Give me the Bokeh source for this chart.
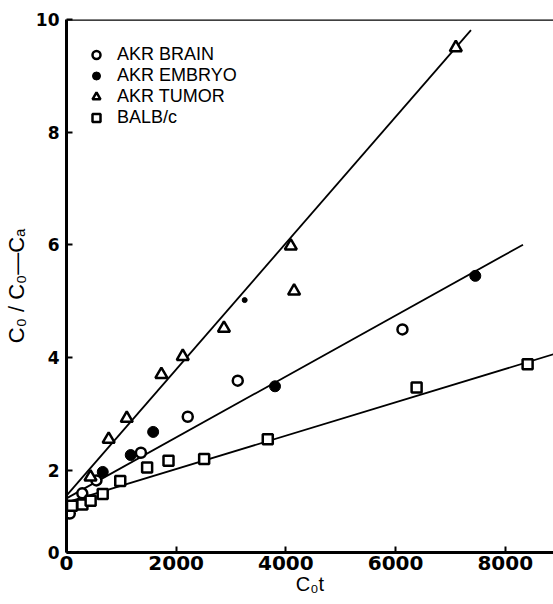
from bokeh.plotting import figure
from bokeh.models import Range1d, FixedTicker, CustomJSTickFormatter, Legend, LegendItem, Span
from bokeh.embed import file_html
from bokeh.resources import INLINE

# ---- data ----
brain_x = [60, 288, 546, 1357, 2211, 3123, 6126]
brain_y = [1.23, 1.59, 1.82, 2.31, 2.95, 3.59, 4.50]

embryo_x = [661, 1171, 1580, 3802, 7454]
embryo_y = [1.97, 2.27, 2.68, 3.49, 5.45]

tumor_x = [438, 769, 1099, 1730, 2120, 2871, 4090, 4150, 7099]
tumor_y = [1.88, 2.55, 2.92, 3.70, 4.02, 4.52, 5.98, 5.18, 9.50]

balb_x = [100, 290, 440, 660, 980, 1470, 1860, 2510, 3670, 6384, 8408]
balb_y = [1.37, 1.39, 1.46, 1.58, 1.81, 2.05, 2.17, 2.20, 2.55, 3.47, 3.88]

stray_x = [3249]
stray_y = [5.02]

# fitted lines (tumor, brain/embryo, BALB/c)
fit_intercept = [1.55, 1.50, 1.43]
fit_slope = [0.00112, 0.000541, 0.000296]
fit_x_end = [7375, 8324, 8900]

x_ticks = [0, 2000, 4000, 6000, 8000]
y_ticks = [2, 4, 6, 8, 10]
legend_labels = ["AKR BRAIN", "AKR EMBRYO", "AKR TUMOR", "BALB/c"]

Y_FLOOR = 0.54  # bottom of the drawn y axis (labelled "0" in the original)

p = figure(width=553, height=604, output_backend="svg", toolbar_location=None,
           x_range=Range1d(0, 8880), y_range=Range1d(Y_FLOOR, 10),
           min_border_left=60, min_border_right=0, min_border_top=19, min_border_bottom=52)
p.outline_line_color = None
p.grid.visible = False
p.background_fill_color = "white"
p.border_fill_color = "white"

# fitted lines
y1 = [b + m * xe for b, m, xe in zip(fit_intercept, fit_slope, fit_x_end)]
p.segment(x0=[0, 0, 0], y0=fit_intercept, x1=fit_x_end, y1=y1, line_color="black", line_width=1.8)

r_brain = p.scatter(brain_x, brain_y, marker="circle", size=10, fill_color="white",
                    line_color="black", line_width=2.5)
r_embryo = p.scatter(embryo_x, embryo_y, marker="circle", size=11, fill_color="black",
                     line_color="black", line_width=1)
r_tumor = p.scatter(tumor_x, tumor_y, marker="triangle", size=12, fill_color="white",
                    line_color="black", line_width=2.5)
r_balb = p.scatter(balb_x, balb_y, marker="square", size=10, fill_color="white",
                   line_color="black", line_width=2.5)
p.scatter(stray_x, stray_y, marker="circle", size=5, fill_color="black", line_color="black")

# top frame line
p.add_layout(Span(location=10, dimension="width", line_color="black", line_width=2.5))

# axes
p.xaxis.ticker = FixedTicker(ticks=x_ticks)
p.yaxis.ticker = FixedTicker(ticks=[Y_FLOOR] + y_ticks)
p.yaxis.formatter = CustomJSTickFormatter(code="return tick < 1 ? '0' : tick.toFixed(0);")
for ax in (p.xaxis[0], p.yaxis[0]):
    ax.axis_line_width = 3
    ax.axis_line_color = "black"
    ax.major_tick_in = 6
    ax.major_tick_out = 0
    ax.major_tick_line_width = 2
    ax.major_tick_line_color = "black"
    ax.minor_tick_line_color = None
    ax.major_label_text_font = "DejaVu Sans"
    ax.major_label_text_font_style = "bold"
    ax.major_label_text_color = "black"
    ax.axis_label_text_font = "Liberation Sans"
    ax.axis_label_text_font_style = "normal"
    ax.axis_label_text_color = "black"
p.xaxis.major_label_text_font_size = "20px"
p.yaxis.major_label_text_font_size = "17px"
p.xaxis.axis_label_text_font_size = "20px"
p.yaxis.axis_label_text_font_size = "22px"
p.xaxis.major_label_standoff = 3
p.yaxis.major_label_standoff = 7
p.xaxis.axis_label = "C\u2080t"
p.yaxis.axis_label = "C\u2080 / C\u2080\u2014C\u2090"
p.xaxis.axis_label_standoff = 0
p.yaxis.axis_label_standoff = 4

legend = Legend(items=[LegendItem(label=legend_labels[0], renderers=[r_brain]),
                       LegendItem(label=legend_labels[1], renderers=[r_embryo]),
                       LegendItem(label=legend_labels[2], renderers=[r_tumor]),
                       LegendItem(label=legend_labels[3], renderers=[r_balb])],
                location=(20, 424), margin=0, padding=0, spacing=0,
                glyph_width=20, glyph_height=21, label_height=21, label_standoff=11,
                border_line_color=None, background_fill_alpha=0,
                label_text_font="Liberation Sans", label_text_font_size="18px",
                label_text_color="black")
p.add_layout(legend)

open("out.html", "w").write(file_html(p, INLINE))
